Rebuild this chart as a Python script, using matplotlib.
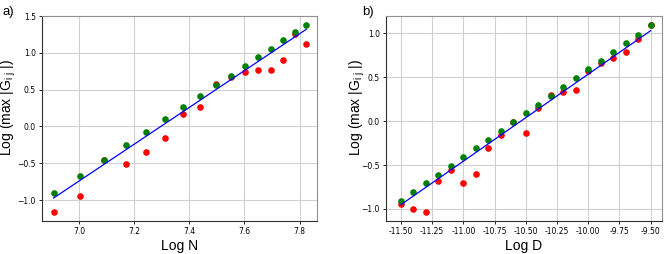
import matplotlib.pyplot as plt

plt.rcParams['mathtext.fontset'] = 'custom'
plt.rcParams['mathtext.rm'] = 'Liberation Sans'
plt.rcParams['mathtext.it'] = 'Liberation Sans'
plt.rcParams['mathtext.default'] = 'regular'

# panel a: Log N
logN = [6.908, 7.003, 7.090, 7.170, 7.244, 7.313, 7.378, 7.438, 7.496,
        7.550, 7.601, 7.650, 7.696, 7.741, 7.783, 7.824]
G_green_a = [-0.909, -0.669, -0.457, -0.257, -0.072, 0.105, 0.264, 0.413, 0.563,
             0.685, 0.821, 0.943, 1.056, 1.169, 1.278, 1.378]
G_red_a = [-1.163, -0.941, -0.46, -0.511, -0.352, -0.158, 0.168, 0.268, 0.581,
           0.676, 0.744, 0.762, 0.762, 0.898, 1.251, 1.115]
fit_a = [-0.973, 1.319]

# panel b: Log D
logD = [-11.5, -11.4, -11.3, -11.2, -11.1, -11.0, -10.9, -10.8, -10.7, -10.6, -10.5,
        -10.4, -10.3, -10.2, -10.1, -10.0, -9.9, -9.8, -9.7, -9.6, -9.5]
G_green_b = [-0.913, -0.810, -0.708, -0.609, -0.507, -0.412, -0.309, -0.211, -0.112,
             -0.009, 0.089, 0.188, 0.290, 0.389, 0.488, 0.590, 0.689, 0.787, 0.886,
             0.985, 1.091]
G_red_b = [-0.947, -1.000, -1.038, -0.681, -0.556, -0.704, -0.598, -0.306, -0.157,
           -0.01, -0.131, 0.154, 0.294, 0.328, 0.355, 0.571, 0.658, 0.723, 0.787,
           0.932, 1.095]
fit_b = [-0.951, 1.030]

ylab = r'Log (max |G$_{i\ j}$ |)'
lab_font = 'Liberation Sans'

fig = plt.figure(figsize=(6.65, 2.54), dpi=100)
ax1 = fig.add_axes([0.0632, 0.130, 0.4135, 0.807])
ax2 = fig.add_axes([0.5805, 0.130, 0.415, 0.807])


def style(ax, lx):
    ax.grid(True, color='#d0d0d0', linewidth=0.8)
    ax.set_axisbelow(True)
    for s in ['top', 'right']:
        ax.spines[s].set_color('#909090')
    for s in ['left', 'bottom']:
        ax.spines[s].set_color('#303030')
    ax.tick_params(axis='both', labelsize=5.5, length=2.5, width=0.6, pad=2)
    ax.set_ylabel(ylab, fontsize=10, family=lab_font)
    ax.yaxis.set_label_coords(lx, 0.555)


ax1.scatter(logN, G_red_a, s=14, color='red', zorder=3)
ax1.scatter(logN, G_green_a, s=14, color='green', zorder=3)
ax1.plot([logN[0], logN[-1]], fit_a, color='blue', linewidth=0.9, zorder=4)
ax1.set_xlim(6.866, 7.863)
ax1.set_ylim(-1.285, 1.5)
ax1.set_xticks([7.0, 7.2, 7.4, 7.6, 7.8])
ax1.set_yticks([-1.0, -0.5, 0.0, 0.5, 1.0, 1.5])
ax1.set_xlabel('Log N', fontsize=10, family=lab_font, labelpad=2)
style(ax1, -0.087)

ax2.scatter(logD, G_red_b, s=14, color='red', zorder=3)
ax2.scatter(logD, G_green_b, s=14, color='green', zorder=3)
ax2.plot([logD[0], logD[-1]], fit_b, color='blue', linewidth=0.9, zorder=4)
ax2.set_xlim(-11.62, -9.409)
ax2.set_ylim(-1.137, 1.197)
ax2.set_xticks([-11.5, -11.25, -11.0, -10.75, -10.5, -10.25, -10.0, -9.75, -9.5])
ax2.set_xticklabels(['%.2f' % v for v in ax2.get_xticks()])
ax2.set_yticks([-1.0, -0.5, 0.0, 0.5, 1.0])
ax2.set_xlabel('Log D', fontsize=10, family=lab_font, labelpad=2)
style(ax2, -0.069)

fig.text(0.004, 0.975, 'a)', fontsize=9.5, family=lab_font, va='top')
fig.text(0.545, 0.975, 'b)', fontsize=9.5, family=lab_font, va='top')

fig.savefig('out.png', dpi=100)
